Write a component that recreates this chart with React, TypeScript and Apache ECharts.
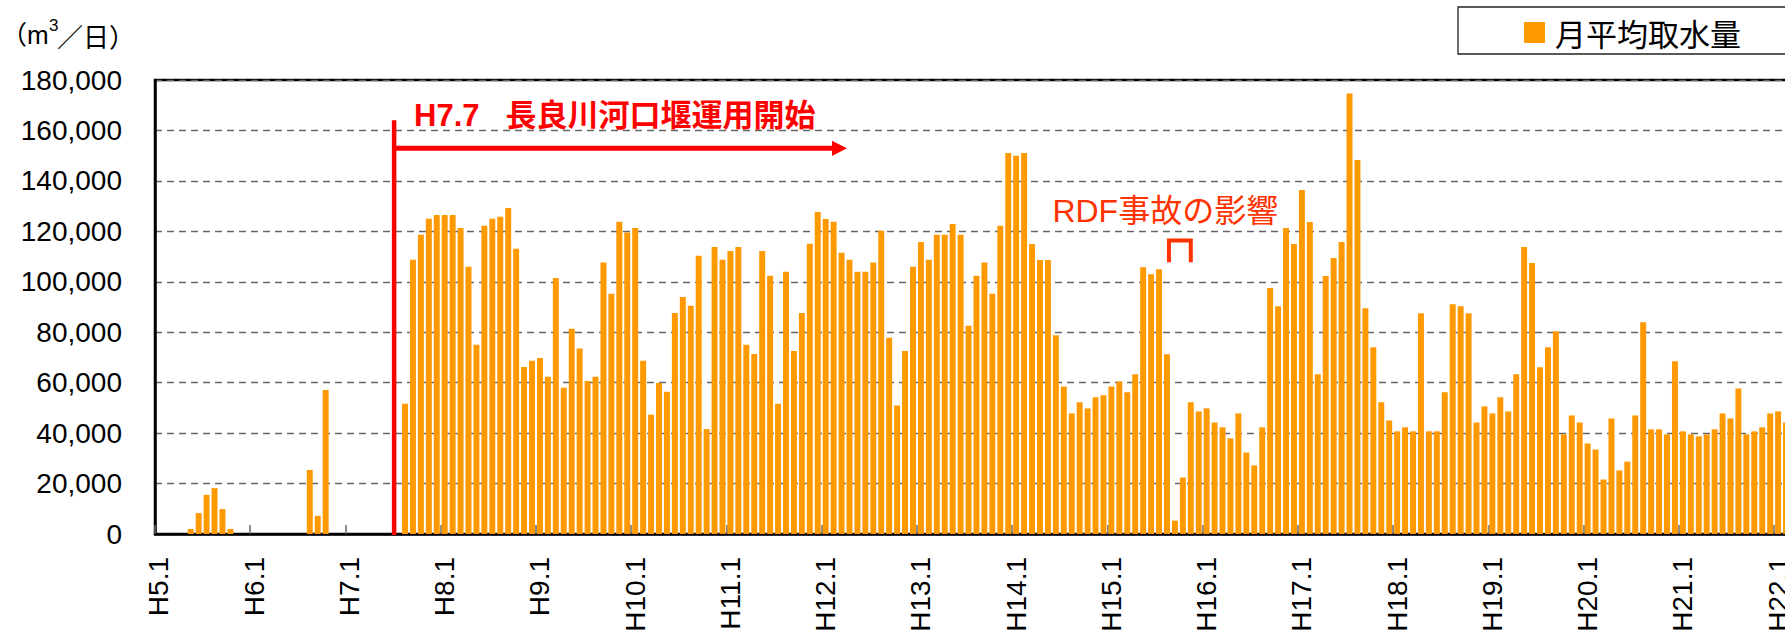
import React, { useEffect, useRef } from 'react';
import * as echarts from 'echarts';

// ---- data (monthly average intake, m3/day) ----
const eraYears = [5, 6, 7, 8, 9, 10, 11, 12, 13, 14, 15, 16, 17, 18, 19, 20, 21, 22];
const h5 = [0, 0, 0, 0, 2000, 8300, 15500, 18200, 9900, 2000, 0, 0];
const h6 = [0, 0, 0, 0, 0, 0, 0, 25400, 7200, 57100, 0, 0];
const h7 = [0, 0, 0, 0, 0, 0, 0, 51600, 108700, 118600, 125000, 126500];
const h8 = [126500, 126500, 121300, 106000, 75000, 122200, 125000, 125800, 129300, 113100, 66200, 68700];
const h9 = [69800, 62300, 101500, 58000, 81400, 73500, 60700, 62300, 107600, 95300, 123800, 119500];
const h10 = [121300, 68700, 47300, 59900, 56400, 87600, 94000, 90500, 110300, 41600, 113800, 108700];
const h11 = [112200, 113800, 75000, 71400, 112200, 102400, 51600, 104000, 72600, 87600, 115100, 127700];
const h12 = [124900, 123800, 111500, 108700, 104000, 104000, 107600, 120200, 77800, 50900, 72600, 106000];
const h13 = [115800, 108700, 118600, 118600, 122900, 118600, 82600, 102400, 107600, 95300, 122200, 151100];
const h14 = [150000, 151100, 115000, 108600, 108600, 78800, 58500, 47800, 52200, 49800, 54200, 55000];
const h15 = [58500, 60500, 56200, 63300, 105800, 103000, 105000, 71300, 5300, 22400, 52200, 48600];
const h16 = [49800, 44200, 42300, 37900, 47800, 32300, 27200, 42300, 97500, 90300, 121300, 115000];
const h17 = [136400, 123700, 63300, 102300, 109400, 115800, 174600, 148300, 89500, 74000, 52200, 45000];
const h18 = [40700, 42300, 40700, 87500, 40700, 40700, 56200, 91100, 90300, 87500, 44200, 50600];
const h19 = [47800, 54200, 48600, 63300, 113800, 107400, 66100, 74000, 80400, 39500, 47000, 44200];
const h20 = [35900, 33500, 21600, 45800, 25200, 28700, 47000, 84000, 41500, 41500, 39500, 68500];
const h21 = [40700, 39500, 38700, 39500, 41500, 47800, 45800, 57700, 39500, 40700, 42300, 47800];
const h22 = [48600, 44200];
const valuesByYear = [h5, h6, h7, h8, h9, h10, h11, h12, h13, h14, h15, h16, h17, h18, h19, h20, h21, h22];

const categories: string[] = eraYears.flatMap((y, k) => valuesByYear[k].map((_, m) => `H${y}.${m + 1}`));
const monthlyValues: number[] = valuesByYear.flat();

const yMin = 0;
const yMax = 180000;
const yStep = 20000;

const seriesName = '月平均取水量';
const startLabel = 'H7.7   長良川河口堰運用開始';
const rdfLabel = 'RDF事故の影響';

export default function App() {
  const ref = useRef<HTMLDivElement>(null);

  useEffect(() => {
    if (!ref.current) return;
    const chart = echarts.init(ref.current, undefined, { renderer: 'svg' });
    const latin = 'Liberation Sans, Arial, Noto Sans CJK JP, sans-serif';
    const cjk = 'Noto Sans CJK JP, Liberation Sans, sans-serif';
    const monthWidth = 7.937;

    chart.setOption({
      animation: false,
      backgroundColor: '#ffffff',
      grid: {
        left: 155,
        top: 80,
        width: categories.length * monthWidth,
        height: 454,
        show: true,
        borderColor: '#000',
        borderWidth: 2.5,
        containLabel: false,
        outerBoundsMode: 'none',
      },
      legend: {
        data: [seriesName],
        left: 1458,
        top: 7,
        padding: [10, 60, 6, 66],
        borderColor: '#222',
        borderWidth: 1.3,
        itemWidth: 21,
        itemHeight: 21,
        icon: 'rect',
        selectedMode: false,
        textStyle: { fontSize: 31, fontFamily: cjk, color: '#000', padding: [0, 0, 0, 5] },
      },
      xAxis: {
        type: 'category',
        data: categories,
        boundaryGap: true,
        axisLine: { show: true, lineStyle: { color: '#000', width: 2.5 } },
        axisTick: {
          show: true,
          inside: true,
          length: 9,
          interval: (i: number) => i % 12 === 0,
          lineStyle: { color: '#666', width: 1.5 },
        },
        axisLabel: {
          interval: (i: number) => i % 12 === 0,
          rotate: 90,
          margin: 23,
          fontSize: 28,
          fontFamily: latin,
          color: '#000',
        },
        splitLine: { show: false },
      },
      yAxis: {
        type: 'value',
        min: yMin,
        max: yMax,
        interval: yStep,
        axisLine: { show: true, lineStyle: { color: '#000', width: 2.5 } },
        axisTick: { show: false },
        axisLabel: {
          margin: 33,
          fontSize: 28,
          fontFamily: latin,
          color: '#000',
          padding: [9, 0, 0, 0],
          formatter: (v: number) => v.toLocaleString('en-US'),
        },
        splitLine: { show: true, lineStyle: { color: '#666', width: 1.3, type: [7, 5] } },
      },
      series: [
        {
          name: seriesName,
          type: 'bar',
          data: monthlyValues,
          barCategoryGap: '25%',
          itemStyle: { color: '#FF9900' },
          emphasis: { disabled: true },
        },
      ],
    });

    const pt = (idx: number, val: number) =>
      chart.convertToPixel({ gridIndex: 0 }, [idx, val]) as number[];
    const band = pt(1, 0)[0] - pt(0, 0)[0];
    const boundary = (idx: number) => pt(idx, 0)[0] - band / 2;
    const yOf = (val: number) => pt(0, val)[1];

    const startIdx = categories.indexOf('H7.7');
    const lineX = boundary(startIdx) + 1;
    const arrowY = yOf(152900);
    const tipX = boundary(startIdx + 57) + 1.5;

    const bLeft = pt(127, 0)[0] + band * 0.25;
    const bRight = pt(130, 0)[0];
    const bTop = yOf(116400);
    const bBottom = yOf(107700);
    const red = '#FF0000';
    const rdfRed = '#FF3300';

    chart.setOption({
      graphic: [
        {
          type: 'line',
          z: 100,
          shape: { x1: lineX, y1: yOf(164000), x2: lineX, y2: yOf(0) + 1 },
          style: { stroke: red, lineWidth: 4.5 },
        },
        {
          type: 'line',
          z: 100,
          shape: { x1: lineX, y1: arrowY, x2: tipX - 12, y2: arrowY },
          style: { stroke: red, lineWidth: 5 },
        },
        {
          type: 'polygon',
          z: 100,
          shape: { points: [[tipX - 15, arrowY - 7.7], [tipX, arrowY], [tipX - 15, arrowY + 7.7]] },
          style: { fill: red },
        },
        {
          type: 'text',
          z: 100,
          x: lineX + 20,
          y: yOf(166100),
          style: {
            text: startLabel,
            fill: red,
            fontSize: 31,
            fontWeight: 'bold',
            fontFamily: latin,
            align: 'left',
            verticalAlign: 'middle',
          },
        },
        {
          type: 'text',
          z: 100,
          x: boundary(113) + 0.5,
          y: yOf(128140),
          style: {
            text: rdfLabel,
            fill: rdfRed,
            fontSize: 32,
            fontFamily: latin,
            align: 'left',
            verticalAlign: 'middle',
          },
        },
        {
          type: 'polyline',
          z: 100,
          shape: { points: [[bLeft, bBottom], [bLeft, bTop], [bRight, bTop], [bRight, bBottom]] },
          style: { stroke: rdfRed, lineWidth: 4, fill: 'none' },
        },
        {
          type: 'text',
          z: 100,
          x: 1,
          y: 35,
          style: { text: '（m', fill: '#000', fontSize: 26, fontFamily: latin, align: 'left', verticalAlign: 'middle' },
        },
        {
          type: 'text',
          z: 100,
          x: 49,
          y: 25,
          style: { text: '3', fill: '#000', fontSize: 17, fontFamily: latin, align: 'left', verticalAlign: 'middle' },
        },
        {
          type: 'text',
          z: 100,
          x: 57,
          y: 35,
          style: { text: '／日）', fill: '#000', fontSize: 26, fontFamily: cjk, align: 'left', verticalAlign: 'middle' },
        },
      ],
    });

    return () => chart.dispose();
  }, []);

  return (
    <div
      style={{
        position: 'fixed',
        left: 0,
        top: 0,
        width: 1785,
        height: 632,
        overflow: 'hidden',
        background: '#fff',
      }}
    >
      <div ref={ref} style={{ width: 1900, height: 632 }} />
    </div>
  );
}
